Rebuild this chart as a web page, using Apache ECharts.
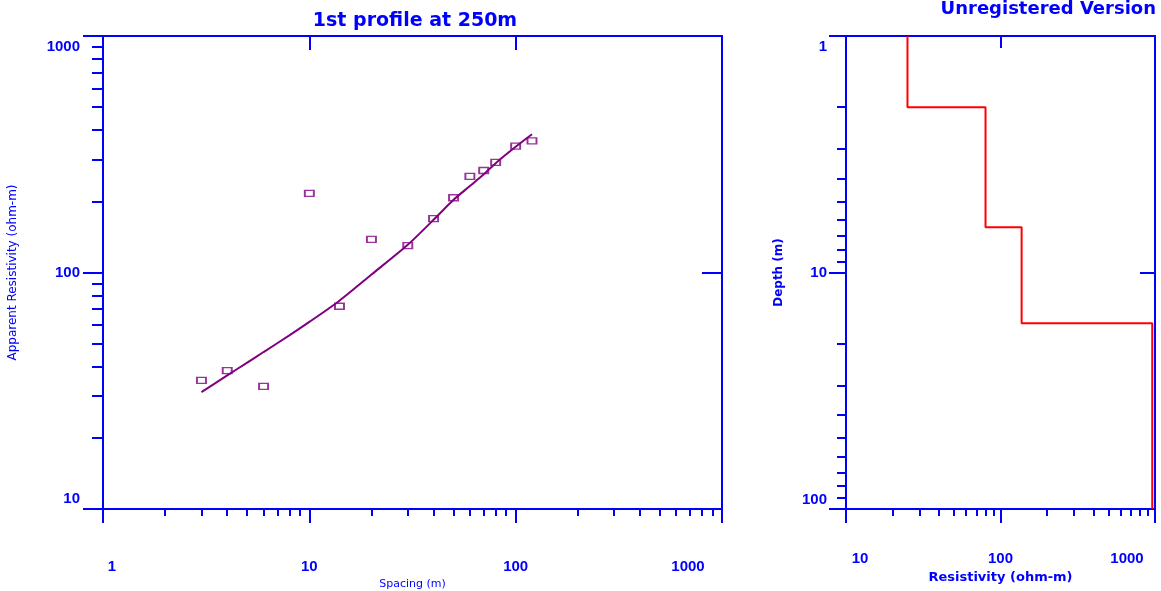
<!DOCTYPE html>
<html><head><meta charset="utf-8">
<script src="https://cdn.jsdelivr.net/npm/echarts@6/dist/echarts.min.js"></script>
<style>html,body{margin:0;padding:0;background:#fff}#c{width:1161px;height:591px}</style>
</head><body><div id="c"></div>
<script>
// ---- data ----
const spacing      = [3, 4, 6, 10, 14, 20, 30, 40, 50, 60, 70, 80, 100, 120];
const apparentRes  = [35, 38.5, 33, 216, 72, 138, 130, 169, 207, 255, 270, 292, 342, 360];
const fitSpacing   = [3, 4, 5, 6, 8, 10, 14, 20, 30, 40, 50, 60, 70, 80, 100, 120];
const fitRes       = [31.2, 36.7, 41.6, 46.1, 54.2, 61.8, 76, 98, 131, 167, 203, 232, 260, 290, 340, 384];
const layerRes     = [25, 80, 137, 960];
const layerBottom  = [2.0, 6.43, 16.4];
const depthTop = 1, depthBottom = 100;
const spacingTicks = [1, 10, 100, 1000];
const appResTicks  = [10, 100, 1000];
const resTicks     = [10, 100, 1000];
const depthTicks   = [1, 10, 100];
const titleText = '1st profile at 250m';
const watermark = 'Unregistered Version';

// ---- helpers ----
const BLUE = '#0000ff', PURPLE = '#800080', RED = '#ff0000';
const LBL = {fontFamily: 'Liberation Sans', fontWeight: 'bold', fontSize: 15, color: BLUE};
function minors(lo, hi) {
  const out = [];
  for (let d = lo; d < hi; d *= 10) for (let k = 2; k <= 9; k++) out.push(k * d);
  return out;
}
function richLabel(map) {
  const rich = {n: Object.assign({}, LBL)};
  const keys = Object.keys(map);
  keys.forEach((k, i) => { rich['p' + i] = Object.assign({padding: map[k]}, LBL); });
  return {
    rich,
    formatter: v => {
      const r = Math.round(v);
      const idx = keys.indexOf(String(r));
      return idx >= 0 ? '{p' + idx + '|' + r + '}' : '{n|' + r + '}';
    }
  };
}
function mainAxis(o) {
  return Object.assign({
    type: 'log', logBase: 10,
    axisLine: {show: true, onZero: false, lineStyle: {color: BLUE, width: 2}},
    splitLine: {show: false}, minorTick: {show: false}, minorSplitLine: {show: false}
  }, o);
}
function tickAxis(o, vals, len, inside) {
  return Object.assign({
    type: 'log', logBase: 10,
    axisLine: {show: false, onZero: false},
    axisTick: {show: true, customValues: vals, length: len, inside: !!inside, lineStyle: {color: BLUE, width: 2}},
    axisLabel: {show: false},
    splitLine: {show: false}, minorTick: {show: false}
  }, o);
}

const stepData = [];
let layerTop = depthTop;
layerRes.forEach((r, i) => {
  const layerBot = i < layerBottom.length ? layerBottom[i] : depthBottom;
  stepData.push([r, layerTop], [r, layerBot]);
  layerTop = layerBot;
});

const xl = richLabel({'1': [0, 0, 0, 18], '1000': [0, 68, 0, 0]});
const yl = richLabel({'1000': [22, 0, 0, 0], '10': [0, 0, 21, 0]});
const xr = richLabel({'10': [0, 0, 0, 28], '1000': [0, 56, 0, 0]});
const yr = richLabel({'1': [22, 0, 0, 0], '100': [0, 0, 18, 0]});

const option = {
  backgroundColor: '#fff',
  animation: false,
  grid: [
    {left: 103, top: 36, width: 619, height: 473, outerBoundsMode: 'none', containLabel: false},
    {left: 846, top: 36, width: 309, height: 473, outerBoundsMode: 'none', containLabel: false}
  ],
  xAxis: [
    mainAxis({gridIndex: 0, min: 1, max: 1000, position: 'bottom',
      axisTick: {show: true, customValues: spacingTicks, length: 14, lineStyle: {color: BLUE, width: 2}},
      axisLabel: Object.assign({customValues: spacingTicks, margin: 50}, LBL, xl),
      name: 'Spacing (m)', nameLocation: 'middle', nameGap: 67,
      nameTextStyle: {fontFamily: 'DejaVu Sans', fontSize: 11, color: BLUE}}),
    tickAxis({gridIndex: 0, min: 1, max: 1000, position: 'bottom'}, minors(1, 1000), 7),
    mainAxis({gridIndex: 0, min: 1, max: 1000, position: 'top',
      axisTick: {show: true, customValues: [10, 100], length: 14, inside: true, lineStyle: {color: BLUE, width: 2}},
      axisLabel: {show: false}}),
    mainAxis({gridIndex: 1, min: 10, max: 1000, position: 'bottom',
      axisTick: {show: true, customValues: resTicks, length: 14, lineStyle: {color: BLUE, width: 2}},
      axisLabel: Object.assign({customValues: resTicks, margin: 42}, LBL, xr),
      name: 'Resistivity (ohm-m)', nameLocation: 'middle', nameGap: 62,
      nameTextStyle: {fontFamily: 'DejaVu Sans', fontWeight: 'bold', fontSize: 13, color: BLUE}}),
    tickAxis({gridIndex: 1, min: 10, max: 1000, position: 'bottom'}, minors(10, 1000), 7),
    mainAxis({gridIndex: 1, min: 10, max: 1000, position: 'top',
      axisTick: {show: true, customValues: [100], length: 12, inside: true, lineStyle: {color: BLUE, width: 2}},
      axisLabel: {show: false}})
  ],
  yAxis: [
    mainAxis({gridIndex: 0, min: 10, max: 1000, position: 'left',
      axisTick: {show: true, customValues: appResTicks, length: 20, lineStyle: {color: BLUE, width: 2}},
      axisLabel: Object.assign({customValues: appResTicks, margin: 23}, LBL, yl),
      name: 'Apparent Resistivity (ohm-m)', nameLocation: 'middle', nameGap: 84,
      nameTextStyle: {fontFamily: 'DejaVu Sans', fontSize: 12, color: BLUE}}),
    tickAxis({gridIndex: 0, min: 10, max: 1000, position: 'left'}, minors(10, 1000), 11),
    mainAxis({gridIndex: 0, min: 10, max: 1000, position: 'right',
      axisTick: {show: true, customValues: [100], length: 20, inside: true, lineStyle: {color: BLUE, width: 2}},
      axisLabel: {show: false}}),
    mainAxis({gridIndex: 1, min: 1, max: 100, inverse: true, position: 'left',
      axisTick: {show: true, customValues: depthTicks, length: 17, lineStyle: {color: BLUE, width: 2}},
      axisLabel: Object.assign({customValues: depthTicks, margin: 19}, LBL, yr),
      name: 'Depth (m)', nameLocation: 'middle', nameGap: 61,
      nameTextStyle: {fontFamily: 'DejaVu Sans', fontWeight: 'bold', fontSize: 12, color: BLUE}}),
    tickAxis({gridIndex: 1, min: 1, max: 100, inverse: true, position: 'left'}, minors(1, 100), 9),
    mainAxis({gridIndex: 1, min: 1, max: 100, inverse: true, position: 'right',
      axisTick: {show: true, customValues: [10], length: 15, inside: true, lineStyle: {color: BLUE, width: 2}},
      axisLabel: {show: false}})
  ],
  graphic: [
    {type: 'text', x: 415, y: 12, style: {text: titleText, textAlign: 'center', textVerticalAlign: 'top',
      fill: BLUE, font: 'bold 19px "DejaVu Sans"'}},
    {type: 'text', x: 1156, y: 0, style: {text: watermark, textAlign: 'right', textVerticalAlign: 'top',
      fill: BLUE, font: 'bold 18px "DejaVu Sans"'}}
  ],
  series: [
    {type: 'line', xAxisIndex: 0, yAxisIndex: 0, smooth: 0.25, symbol: 'none',
      lineStyle: {color: PURPLE, width: 2},
      data: fitSpacing.map((x, i) => [x, fitRes[i]])},
    {type: 'scatter', xAxisIndex: 0, yAxisIndex: 0, symbol: 'rect', symbolSize: [9, 6],
      itemStyle: {color: 'rgba(255,255,255,0)', borderColor: PURPLE, borderWidth: 1.6},
      data: spacing.map((x, i) => [x, apparentRes[i]])},
    {type: 'line', xAxisIndex: 3, yAxisIndex: 3, symbol: 'none',
      lineStyle: {color: RED, width: 2},
      data: stepData}
  ]
};
echarts.init(document.getElementById('c')).setOption(option);
</script>
</body></html>
